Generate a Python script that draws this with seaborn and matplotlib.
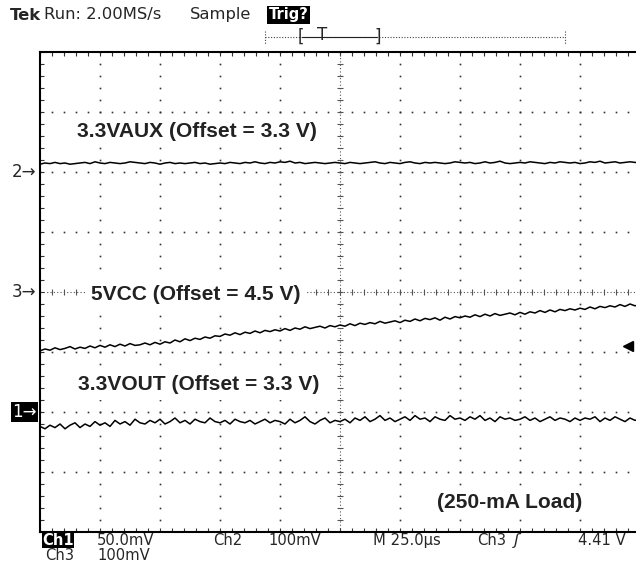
import numpy as np
import pandas as pd
import matplotlib.pyplot as plt
from matplotlib.lines import Line2D
import seaborn as sns

# ---- scope settings (from the screen readout) ----
n_div_x, n_div_y = 10, 8
ch1_mv_div, ch1_pos = 50, -2     # 3.3VOUT, marker "1"
ch2_mv_div, ch2_pos = 100, 2     # 3.3VAUX, marker "2"
ch3_mv_div, ch3_pos = 100, 0     # 5VCC,    marker "3"
trig_level_v, ch3_offset_v = 4.41, 4.5

# ---- traces, mV relative to each channel offset, 12 samples per division ----
ch2_mv = [13, 15, 14, 16, 14, 15, 13, 14, 15, 16, 14, 17, 15, 14, 16, 15, 14, 15, 17, 16,
          15, 14, 16, 15, 13, 15, 16, 14, 15, 14, 15, 16, 14, 15, 13, 14, 15, 14, 16, 15,
          14, 16, 15, 17, 15, 14, 16, 15, 17, 16, 18, 15, 16, 14, 15, 16, 15, 14, 15, 16,
          15, 14, 16, 15, 14, 15, 16, 17, 15, 14, 16, 15, 14, 16, 17, 15, 14, 16, 15, 16,
          15, 14, 15, 17, 16, 15, 16, 14, 15, 17, 15, 16, 18, 15, 14, 15, 16, 15, 17, 16,
          15, 14, 16, 15, 17, 16, 15, 16, 14, 15, 17, 16, 18, 15, 16, 17, 15, 16, 17, 16, 15]

ch3_mv = [-98, -95, -97, -93, -96, -94, -91, -95, -92, -94, -90, -93,
          -89, -92, -88, -91, -87, -90, -86, -89, -88, -85, -88, -84,
          -87, -83, -85, -80, -83, -78, -81, -77, -79, -75, -77, -73,
          -74, -70, -72, -68, -71, -67, -69, -65, -68, -64, -66, -63,
          -65, -61, -64, -60, -62, -58, -61, -59, -57, -60, -56, -58,
          -55, -57, -53, -56, -52, -54, -51, -53, -49, -52, -50, -48,
          -51, -47, -49, -45, -48, -44, -46, -43, -47, -42, -45, -41,
          -43, -40, -42, -38, -41, -37, -40, -36, -39, -37, -35, -38,
          -34, -37, -33, -35, -31, -34, -30, -33, -29, -31, -28, -30,
          -27, -29, -25, -28, -24, -26, -23, -25, -21, -24, -20, -23,
          -21]

ch1_mv = [-12, -14, -11, -13, -10, -14, -11, -9, -13, -10, -12, -8,
          -11, -9, -12, -7, -10, -8, -11, -6, -9, -10, -7, -9,
          -6, -10, -8, -5, -9, -7, -10, -6, -8, -9, -5, -8,
          -9, -7, -10, -6, -8, -9, -7, -10, -8, -6, -9, -7,
          -8, -10, -6, -9, -7, -4, -8, -10, -7, -5, -9, -7,
          -8, -6, -9, -5, -7, -4, -8, -6, -3, -7, -5, -8,
          -6, -4, -7, -3, -6, -5, -8, -4, -6, -7, -3, -6,
          -5, -7, -4, -6, -3, -7, -5, -8, -4, -6, -5, -7,
          -6, -4, -7, -5, -8, -6, -4, -7, -5, -6, -8, -5,
          -7, -5, -6, -4, -8, -5, -7, -4, -6, -8, -5, -7,
          -6]

labels = ["3.3VAUX (Offset = 3.3 V)", "5VCC (Offset = 4.5 V)", "3.3VOUT (Offset = 3.3 V)"]

W, H = 636, 569
fx = lambda px: px / W
fy = lambda py: 1 - py / H
# 畫面像素 -> 格數
dx = lambda px: (px - 40) / 60
dy = lambda py: (292 - py) / 60

sns.set_style("white")
plt.rcParams['font.family'] = ['DejaVu Sans']

fig = plt.figure(figsize=(W / 100, H / 100), dpi=100)
ax = fig.add_axes([fx(40), fy(532), 600 / W, 480 / H])

# 把 mV 換成螢幕格數
t_div = np.arange(len(ch1_mv)) / 12.0
df = pd.concat([
    pd.DataFrame({'t': t_div, 'div': ch2_pos + np.array(ch2_mv) / ch2_mv_div, 'ch': 'ch2'}),
    pd.DataFrame({'t': t_div, 'div': ch3_pos + np.array(ch3_mv) / ch3_mv_div, 'ch': 'ch3'}),
    pd.DataFrame({'t': t_div, 'div': ch1_pos + np.array(ch1_mv) / ch1_mv_div, 'ch': 'ch1'}),
])

# ---- graticule ----
dot_c = '#333333'
for k in range(1, n_div_x):
    if k == n_div_x // 2:
        continue
    ys = np.arange(-n_div_y / 2, n_div_y / 2 + 0.01, 0.2)
    ax.plot(np.full_like(ys, k), ys, ls='none', marker='s', ms=1.2, mew=0, color=dot_c, zorder=1)
for k in range(-n_div_y // 2 + 1, n_div_y // 2):
    if k == 0:
        continue
    xs = np.arange(0, n_div_x + 0.01, 0.2)
    ax.plot(xs, np.full_like(xs, k), ls='none', marker='s', ms=1.2, mew=0, color=dot_c, zorder=1)
# center cross with small ticks
ax.axvline(n_div_x / 2, color='#555555', lw=0.8, ls=(0, (1, 2)), zorder=1)
ax.axhline(0, color='#555555', lw=0.8, ls=(0, (1, 2)), zorder=1)
ys = np.arange(-n_div_y / 2, n_div_y / 2 + 0.01, 0.2)
ax.hlines(ys, n_div_x / 2 - 0.05, n_div_x / 2 + 0.05, color='#555555', lw=0.8, zorder=1)
xs = np.arange(0, n_div_x + 0.01, 0.2)
ax.vlines(xs, -0.05, 0.05, color='#555555', lw=0.8, zorder=1)

for ch, g in df.groupby('ch'):
    sns.lineplot(data=g, x='t', y='div', ax=ax, color='black', lw=1.1, zorder=3)

ax.set_xlim(0, n_div_x)
ax.set_ylim(-n_div_y / 2, n_div_y / 2)
ax.set_xticks(np.arange(0, n_div_x + 1, 1))
ax.set_yticks(np.arange(-n_div_y / 2, n_div_y / 2 + 1, 1))
ax.set_xticks(np.arange(0, n_div_x + 0.01, 0.2), minor=True)
ax.set_yticks(np.arange(-n_div_y / 2, n_div_y / 2 + 0.01, 0.2), minor=True)
ax.tick_params(which='both', direction='in', top=True, right=True, bottom=True, left=True,
               length=3, width=0.8, color='#333333', labelbottom=False, labelleft=False)
ax.set_xlabel('')
ax.set_ylabel('')
for s in ax.spines.values():
    s.set_linewidth(1.5)
    s.set_color('black')
    s.set_zorder(6)

# trigger level arrow on the right edge
trig_div = ch3_pos + (trig_level_v - ch3_offset_v) * 1000 / ch3_mv_div
ax.plot([0.98], [trig_div], marker='<', ms=7, color='black',
        transform=ax.get_yaxis_transform(), clip_on=False, zorder=4)

# channel ground markers
lbl_tr = ax.get_yaxis_transform()
ax.text(-0.006, ch2_pos, '2→', transform=lbl_tr, ha='right', va='center', fontsize=12)
ax.text(-0.006, ch3_pos, '3→', transform=lbl_tr, ha='right', va='center', fontsize=12)
ax.text(-0.006, ch1_pos, '1→', transform=lbl_tr, ha='right', va='center', fontsize=12,
        color='white', bbox=dict(facecolor='black', edgecolor='none', pad=1))

# trace labels
lab_kw = dict(family='Liberation Sans', fontweight='bold', fontsize=15.1, color='#222222',
              ha='left', va='center', zorder=5,
              bbox=dict(facecolor='white', edgecolor='none', boxstyle='square,pad=0.3'))
ax.text(dx(77), dy(131), labels[0], **lab_kw)
ax.text(dx(91), dy(294), labels[1], **lab_kw)
ax.text(dx(78), dy(384), labels[2], **lab_kw)
ax.text(dx(437), dy(503), '(250-mA Load)', **lab_kw)

# ---- header ----
hk = dict(fontsize=11.8, va='center', ha='left')
fig.text(fx(10), fy(15), 'Tek', fontweight='bold', **hk)
fig.text(fx(44), fy(15), 'Run: 2.00MS/s', **hk)
fig.text(fx(190), fy(15), 'Sample', **hk)
fig.text(fx(269), fy(15), 'Trig?', color='white', fontweight='bold', fontsize=10.5,
         va='center', ha='left', bbox=dict(facecolor='black', edgecolor='none', pad=1.2))
fig.add_artist(Line2D([fx(265), fx(565)], [fy(37), fy(37)], lw=0.8, ls=(0, (1, 1.5)), color='#444444'))
for xp in (265, 565):
    fig.add_artist(Line2D([fx(xp), fx(xp)], [fy(31), fy(44)], lw=0.8, ls=(0, (1, 1.5)), color='#444444'))
fig.add_artist(Line2D([fx(302), fx(377)], [fy(37), fy(37)], lw=0.8, color='#222222'))
fig.text(fx(298), fy(37), '[', fontsize=12, va='center', ha='left')
fig.text(fx(322), fy(35), 'T', fontsize=12, va='center', ha='center')
fig.text(fx(374), fy(37), ']', fontsize=12, va='center', ha='left')

# ---- footer (two tight rows) ----
fk = dict(fontsize=10.6, va='center', ha='left')
r1, r2 = 540.5, 555.5
fig.text(fx(42), fy(r1), 'Ch1', color='white', fontweight='bold',
         bbox=dict(facecolor='black', edgecolor='none', pad=0.3), **fk)
fig.text(fx(97), fy(r1), '50.0mV', **fk)
fig.text(fx(213), fy(r1), 'Ch2', **fk)
fig.text(fx(268), fy(r1), '100mV', **fk)
fig.text(fx(373), fy(r1), 'M 25.0µs', **fk)
fig.text(fx(477), fy(r1), 'Ch3', **fk)
fig.text(fx(514), fy(r1), 'ʃ', fontsize=11.5, va='center', ha='left', style='italic')
fig.text(fx(578), fy(r1), '4.41 V', **fk)
fig.text(fx(45), fy(r2), 'Ch3', **fk)
fig.text(fx(97), fy(r2), '100mV', **fk)

fig.savefig('out.png', dpi=100)
